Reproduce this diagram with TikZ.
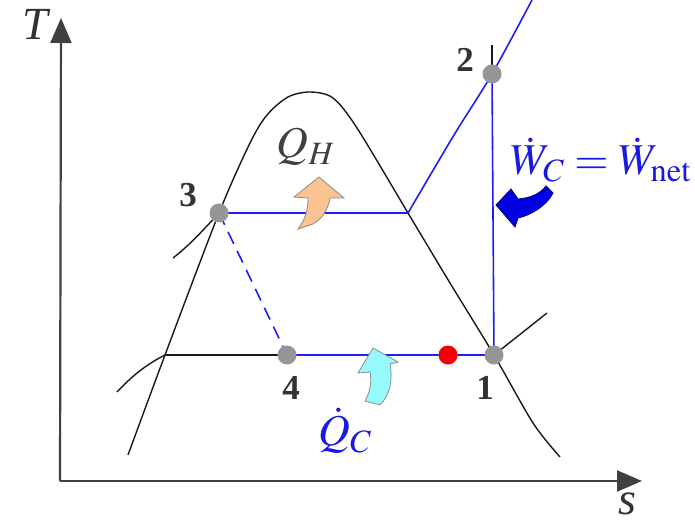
\documentclass[tikz,border=0pt]{standalone}
\usepackage{mathptmx}
\usepackage{fontspec}
\setmainfont{Liberation Serif}
\usetikzlibrary{arrows.meta, positioning, backgrounds}
\definecolor{myblue}{RGB}{30,30,250}
\definecolor{mytext}{RGB}{25,25,225}
\definecolor{mydark}{RGB}{25,25,25}
\definecolor{mygray}{RGB}{150,150,150}
\definecolor{myred}{RGB}{245,0,0}
\definecolor{myorange}{RGB}{250,195,145}
\definecolor{mycyan}{RGB}{150,250,250}
\definecolor{mynavy}{RGB}{0,0,225}
\newcommand{\lblfont}{\fontsize{44}{50}\selectfont}
\tikzset{
  state/.style={circle, fill=mygray, inner sep=0pt, minimum size=19pt},
  reddot/.style={circle, fill=myred, inner sep=0pt, minimum size=19pt},
  numlabel/.style={font=\fontsize{35}{40}\selectfont\bfseries, text=black!80},
  axis/.style={-{Triangle[length=25pt, width=21pt]}, line width=2.2pt, color=black!75},
  satline/.style={line width=1.4pt, color=mydark},
  proc/.style={line width=1.6pt, color=myblue},
  heatarrow/.style={line width=0.8pt, draw=black!45}
}

\begin{document}
\begin{tikzpicture}[x=1pt, y=-1pt]
  \useasboundingbox (0,0) rectangle (695,529);

  % state points
  \node[state] (p1) at (494,355) {};
  \node[state] (p2) at (492,74) {};
  \node[state] (p3) at (219,213) {};
  \node[state] (p4) at (287,355) {};
  \node[reddot] (rd) at (448,355) {};
  \coordinate (fL) at (165,355);
  \coordinate (gH) at (408,213);
  \coordinate (tick) at (492,45);
  \coordinate (shtop) at (532,0);
  \coordinate (lowsh) at (547,313);
  \coordinate (lowsc) at (117,392);
  \coordinate (highsc) at (173,258);

  % axes
  \coordinate (origin) at (60,481);
  \coordinate (taxis) at (61,18);
  \coordinate (saxis) at (642,481);
  \node[font=\fontsize{46}{52}\selectfont\itshape, text=black!80] (tlabel) at (35,24) {T};
  \node[font=\fontsize{46}{52}\selectfont\itshape, text=black!80] (slabel) at (627,504) {s};

  \begin{scope}[on background layer]
    \draw[axis] (origin) -- (taxis);
    \draw[axis] (origin) -- (saxis);
    % saturation dome
    \draw[satline] plot[smooth, tension=0.5] coordinates {(128,455) (fL) (p3.center)
      (250,143) (267,115) (288,97) (310,92) (333,98) (357,128) (gH) (450,283)
      (p1.center) (533,423) (560,457)};
    \draw[satline] (p3.center) .. controls (205,228) and (190,245) .. (highsc);
    \draw[satline] (fL) .. controls (145,365) and (130,378) .. (lowsc);
    \draw[satline] (p1.center) -- (lowsh);
    \draw[satline] (tick) -- (p2.center);
    \draw[satline] (fL) -- (p4.center);
    % cycle
    \draw[proc] (p3.center) -- (gH);
    \draw[proc] plot[smooth, tension=0.5] coordinates {(gH) (454,135) (p2.center) (shtop)};
    \draw[proc] (p2.center) -- (p1.center);
    \draw[proc] (p4.center) -- (p1.center);
    \draw[proc, dash pattern=on 13pt off 8pt] (p3.center) -- (p4.center);
  \end{scope}

  \node[numlabel] (n1) at (485,388) {1};
  \node[numlabel] (n2) at (465,60) {2};
  \node[numlabel] (n3) at (188,195) {3};
  \node[numlabel] (n4) at (291,388) {4};

  % heat and work
  \filldraw[heatarrow, fill=myorange] (319,177) -- (344,198) -- (330,198)
    .. controls (328,210) and (322,219) .. (313,224) -- (298,229)
    .. controls (305,220) and (308,210) .. (308,198) -- (294,197) -- cycle;
  \filldraw[heatarrow, fill=mycyan] (373,348) -- (398,362) -- (390,364)
    .. controls (393,380) and (390,395) .. (380,405) -- (365,401)
    .. controls (370,392) and (372,382) .. (370,372) -- (358,373) -- cycle;
  \filldraw[line width=0.8pt, draw=blue!50!black, fill=mynavy] (496,205) -- (511,189) -- (518,199)
    .. controls (530,198) and (540,194) .. (546,186) -- (553,193)
    .. controls (547,205) and (532,215) .. (518,218) -- (515,227) -- cycle;

  \node[font=\lblfont, text=black!75] (qh) at (306,147) {$Q_H$};
  \node[font=\lblfont, text=mytext] (qc) at (345,431) {$\dot{Q}_C$};
  \node[font=\lblfont, text=mytext] (wnet) at (601,160) {$\dot{W}_C=\dot{W}_{\mathrm{net}}$};

\end{tikzpicture}
\end{document}
